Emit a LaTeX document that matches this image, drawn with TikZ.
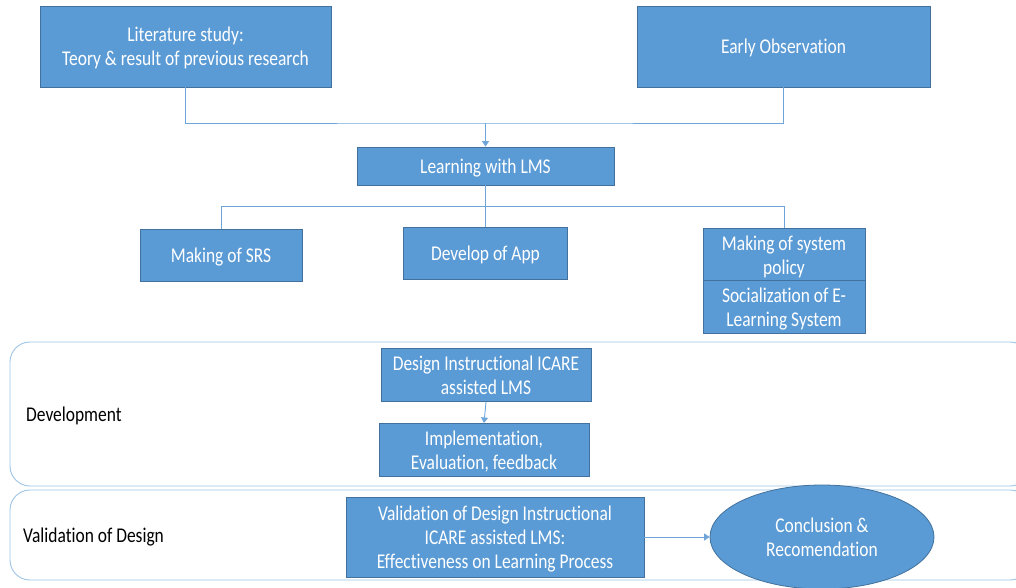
\documentclass[tikz,border=0pt]{standalone}
\usepackage{fontspec}
\setmainfont{Carlito}
\newfontfamily\sqfont[FakeStretch=0.83,Ligatures={NoCommon}]{Carlito}
\usetikzlibrary{shapes.geometric,arrows.meta}
\definecolor{boxfill}{HTML}{5B9BD5}
\definecolor{boxline}{HTML}{41719C}
\definecolor{conn}{HTML}{6FA6DA}
\definecolor{frameline}{HTML}{9DC3E6}
\newcommand\bt[1]{\begin{tabular}{@{}c@{}}\rule{0pt}{22pt}#1\end{tabular}}
\tikzset{
  bluebox/.style={draw=boxline, line width=0.8pt, fill=boxfill, text=white,
    inner sep=0pt, font=\sqfont\fontsize{21}{24}\selectfont},
  conline/.style={draw=conn, line width=0.9pt},
  conarrow/.style={draw=conn, line width=0.9pt, -{Triangle[length=5.5pt,width=7pt]}},
  frame/.style={draw=frameline, line width=0.9pt, rounded corners=20pt},
  label/.style={text=black, anchor=west, inner sep=0pt, font=\sqfont\fontsize{21}{24}\selectfont},
}
\begin{document}
\begin{tikzpicture}[x=1pt,y=-1pt]
\useasboundingbox (0,0) rectangle (1016,588);
% frames
\draw[frame] (10,342) rectangle (1030,486);
\draw[frame] (10,490) rectangle (1030,580);
\node[label] (devlab) at (26,416) {Development};
\node[label] (vallab) at (23,537) {Validation of Design};
% top boxes
\node[bluebox, minimum width=291pt, minimum height=81pt] (lit) at (185.5,46.5)
  {\bt{Literature study:\\Teory \& result of previous research}};
\node[bluebox, minimum width=293pt, minimum height=81pt] (early) at (783.5,46.5)
  {\bt{Early Observation}};
\node[bluebox, minimum width=257pt, minimum height=38pt] (lms) at (485.5,166)
  {\bt{Learning with LMS}};
\coordinate (j1) at (485.5,123);
\draw[conline] (lit.south) |- (j1) -| (early.south);
\draw[conarrow] (j1) -- (lms.north);
% second row
\node[bluebox, minimum width=162pt, minimum height=52pt] (srs) at (221,255) {\bt{Making of SRS}};
\node[bluebox, minimum width=164pt, minimum height=52pt] (app) at (485.5,253) {\bt{Develop of App}};
\node[bluebox, minimum width=162pt, minimum height=52pt] (pol) at (784,255) {\bt{Making of system\\policy}};
\node[bluebox, minimum width=162pt, minimum height=52pt] (soc) at (784,307) {\bt{Socialization of E-\\Learning System}};
\coordinate (j2) at (485.5,206);
\draw[conline] (lms.south) -- (j2);
\draw[conline] (j2) -| (srs.north);
\draw[conline] (j2) -| (pol.north);
\draw[conline] (j2) -- (app.north);
% development
\node[bluebox, minimum width=210pt, minimum height=52pt] (des) at (486,375)
  {\bt{Design Instructional ICARE\\assisted LMS}};
\node[bluebox, minimum width=210pt, minimum height=52pt] (imp) at (484,450)
  {\bt{Implementation,\\Evaluation, feedback}};
\draw[conarrow] (des.south) -- (imp.north);
% validation
\node[bluebox, minimum width=298pt, minimum height=80pt] (val) at (495,537)
  {\bt{Validation of Design Instructional\\ICARE assisted LMS:\\Effectiveness on Learning Process}};
\node[bluebox, ellipse, minimum width=224pt, minimum height=104pt] (conc) at (822,537)
  {\bt{Conclusion \&\\Recomendation}};
\draw[conarrow] (val.east) -- (conc.west);
\end{tikzpicture}
\end{document}
